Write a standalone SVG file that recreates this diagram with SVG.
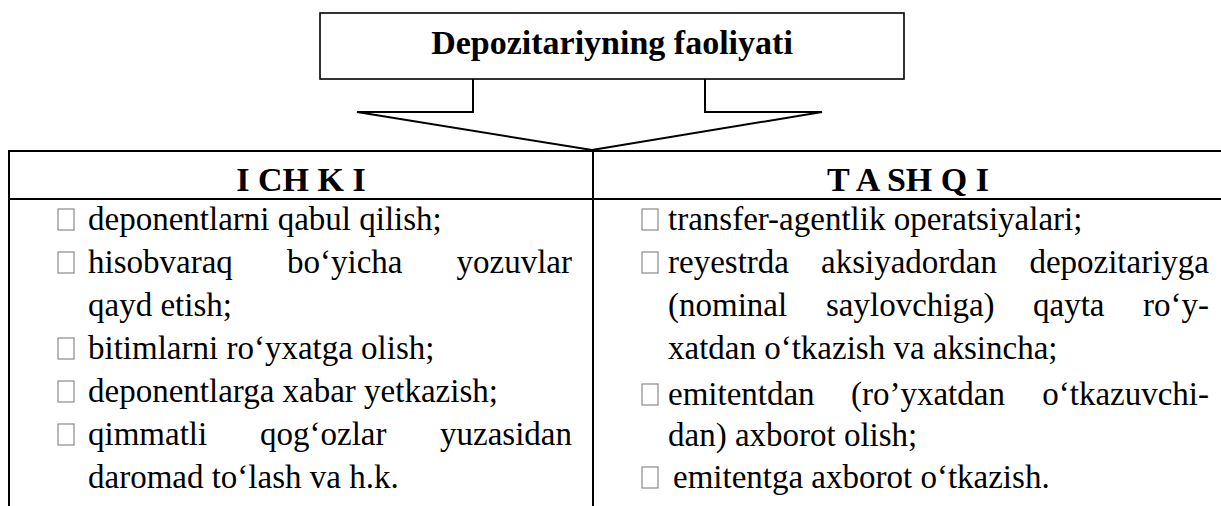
<svg xmlns="http://www.w3.org/2000/svg" width="1221" height="506" viewBox="0 0 1221 506">
<style>
.ln{fill:none;stroke:#000;stroke-width:2}
.bx{fill:none;stroke:#000;stroke-width:1.6}
.hd{font-family:'Liberation Serif','Times New Roman',serif;font-weight:700;font-size:34px;fill:#000}
.tx{font-family:'Liberation Serif','Times New Roman',serif;font-size:33px;fill:#000}
.cb{fill:#fff;stroke:#8a8a8a;stroke-width:1.2}
</style>
<rect width="1221" height="506" fill="#fff"/>
<g id="title">
<rect class="bx" x="320" y="13" width="584" height="66"/>
<text class="hd" x="612" y="54" text-anchor="middle">Depozitariyning faoliyati</text>
</g>
<g id="connectors">
<path class="ln" d="M473,79 V112 H357 L592,150 L822,112 H705 V79"/>
</g>
<g id="table">
<path class="ln" d="M9,506 V151 H1221 M9,199 H1221 M593,151 V506"/>
</g>
<g id="ichki">
<text class="hd" x="301" y="191" text-anchor="middle">I CH K I</text>
<rect class="cb" x="58" y="209" width="16" height="21"/>
<text class="tx" x="88" y="230">deponentlarni qabul qilish;</text>
<rect class="cb" x="58" y="252" width="16" height="21"/>
<text class="tx" y="273"><tspan x="88">hisobvaraq</tspan><tspan x="287">bo‘yicha</tspan><tspan x="572" text-anchor="end">yozuvlar</tspan></text>
<text class="tx" x="88" y="316">qayd etish;</text>
<rect class="cb" x="58" y="338" width="16" height="21"/>
<text class="tx" x="88" y="359">bitimlarni ro‘yxatga olish;</text>
<rect class="cb" x="58" y="381" width="16" height="21"/>
<text class="tx" x="88" y="402">deponentlarga xabar yetkazish;</text>
<rect class="cb" x="58" y="424" width="16" height="21"/>
<text class="tx" y="445"><tspan x="88">qimmatli</tspan><tspan x="260">qog‘ozlar</tspan><tspan x="572" text-anchor="end">yuzasidan</tspan></text>
<text class="tx" x="88" y="488">daromad to‘lash va h.k.</text>
</g>
<g id="tashqi">
<text class="hd" x="908" y="191" text-anchor="middle">T A SH Q I</text>
<rect class="cb" x="642" y="209" width="16" height="21"/>
<text class="tx" x="668" y="230">transfer-agentlik operatsiyalari;</text>
<rect class="cb" x="642" y="252" width="16" height="21"/>
<text class="tx" y="273"><tspan x="668">reyestrda</tspan><tspan x="821">aksiyadordan</tspan><tspan x="1209" text-anchor="end">depozitariyga</tspan></text>
<text class="tx" y="316"><tspan x="668">(nominal</tspan><tspan x="826">saylovchiga)</tspan><tspan x="1033">qayta</tspan><tspan x="1209" text-anchor="end">ro‘y-</tspan></text>
<text class="tx" x="668" y="359">xatdan o‘tkazish va aksincha;</text>
<rect class="cb" x="642" y="384" width="16" height="21"/>
<text class="tx" y="405"><tspan x="668">emitentdan</tspan><tspan x="851">(ro’yxatdan</tspan><tspan x="1209" text-anchor="end">o‘tkazuvchi-</tspan></text>
<text class="tx" x="668" y="446">dan) axborot olish;</text>
<rect class="cb" x="642" y="467" width="16" height="21"/>
<text class="tx" x="673" y="488">emitentga axborot o‘tkazish.</text>
</g>
</svg>
